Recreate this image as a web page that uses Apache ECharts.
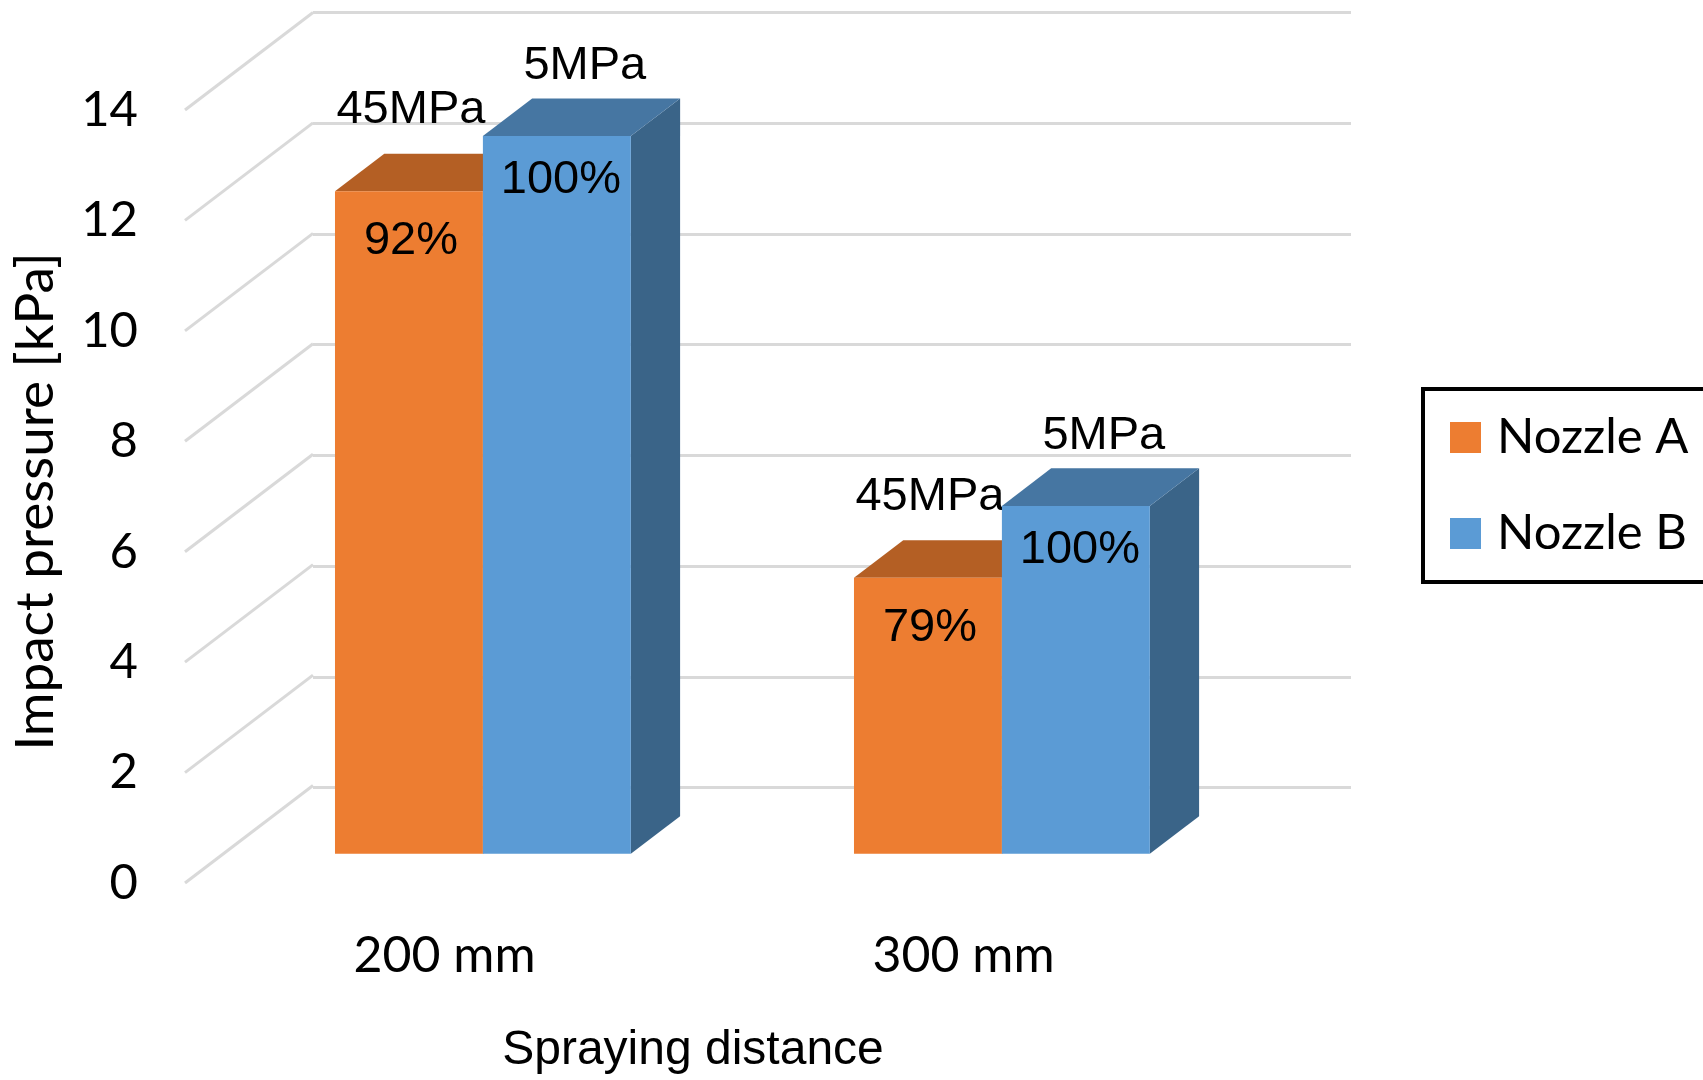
<!DOCTYPE html>
<html>
<head>
<meta charset="utf-8">
<script src="https://cdn.jsdelivr.net/npm/echarts@6/dist/echarts.min.js"></script>
<style>
  html, body { margin: 0; padding: 0; background: #ffffff; }
  #chart { width: 1703px; height: 1080px; }
</style>
</head>
<body>
<div id="chart"></div>
<script>
// ---- data ----
const categories = ['200 mm', '300 mm'];
const seriesNames = ['Nozzle A', 'Nozzle B'];
const nozzleA = [12.0, 5.0];          // impact pressure, kPa
const nozzleB = [13.0, 6.3];          // impact pressure, kPa
const supplyPressure = ['45MPa', '5MPa'];
const yMin = 0, yMax = 14, yStep = 2;
const yTicks = [0, 2, 4, 6, 8, 10, 12, 14];

// ---- 3D look (oblique projection) ----
const DEPTH = [128, -97.5];      // pixel offset from the front plane to the back wall
const BAR_FRONT_T = 0.30;        // depth position of the bar front faces
const BAR_DEPTH_T = 0.385;       // depth of each bar
const BAR_FRAC = 0.285;          // bar width as a share of the category band

const colors = {
  A: { front: '#ED7D31', top: '#B45F24', side: '#A9561E' },
  B: { front: '#5B9BD5', top: '#4676A2', side: '#3A6488' }
};

const LABEL_FONT = '47px "Liberation Sans", Arial, sans-serif';
const AXIS_FONT = 'Lato';

function pct(v, ref) { return Math.round(v / ref * 100) + '%'; }

function makeBarRenderer(side, c, outerText, outerOff, innerOff) {
  return function (params, api) {
    const cat = api.value(0);
    const val = api.value(1);
    const ref = api.value(2);
    const base = api.coord([cat, 0]);
    const top = api.coord([cat, val]);
    const bw = api.size([1, 0])[0] * BAR_FRAC;
    const sx = DEPTH[0] * BAR_FRONT_T, sy = DEPTH[1] * BAR_FRONT_T;
    const dx = DEPTH[0] * BAR_DEPTH_T, dy = DEPTH[1] * BAR_DEPTH_T;
    const x0 = base[0] + sx + (side < 0 ? -bw : 0);
    const x1 = x0 + bw;
    const yb = base[1] + sy;
    const yt = top[1] + sy;
    const cx = (x0 + x1) / 2;
    return {
      type: 'group',
      children: [
        { type: 'polygon', shape: { points: [[x1, yb], [x1 + dx, yb + dy], [x1 + dx, yt + dy], [x1, yt]] },
          style: { fill: c.side } },
        { type: 'polygon', shape: { points: [[x0, yt], [x1, yt], [x1 + dx, yt + dy], [x0 + dx, yt + dy]] },
          style: { fill: c.top } },
        { type: 'rect', shape: { x: x0, y: yt, width: bw, height: yb - yt },
          style: { fill: c.front } },
        { type: 'text', style: { text: pct(val, ref), x: cx + innerOff[0], y: yt + innerOff[1],
          fill: '#000', font: LABEL_FONT, align: 'center', verticalAlign: 'middle' } },
        { type: 'text', style: { text: outerText, x: cx + outerOff[0], y: yt + outerOff[1],
          fill: '#000', font: LABEL_FONT, align: 'center', verticalAlign: 'middle' } }
      ]
    };
  };
}

const barData = categories.map((c, i) => [i, nozzleA[i], nozzleB[i]]);
const barDataB = categories.map((c, i) => [i, nozzleB[i], nozzleB[i]]);

const chart = echarts.init(document.getElementById('chart'), null, { renderer: 'canvas' });

chart.setOption({
  backgroundColor: '#ffffff',
  animation: false,
  grid: [
    { left: 185, top: 110, width: 1038, height: 775 },          // front plane
    { left: 185 + DEPTH[0], top: 110 + DEPTH[1], width: 1038, height: 775 } // back wall
  ],
  legend: {
    orient: 'vertical',
    left: 1423,
    top: 389,
    padding: [24, 40, 24, 27],
    borderColor: '#000000',
    borderWidth: 4,
    itemWidth: 31,
    itemHeight: 31,
    itemGap: 47,
    icon: 'rect',
    textStyle: { fontFamily: AXIS_FONT, fontSize: 49, color: '#000000', padding: [0, 0, 0, 11] },
    data: [
      { name: seriesNames[0], itemStyle: { color: colors.A.front } },
      { name: seriesNames[1], itemStyle: { color: colors.B.front } }
    ]
  },
  xAxis: [
    {
      gridIndex: 0, type: 'category', data: categories,
      axisLine: { show: false }, axisTick: { show: false }, splitLine: { show: false },
      axisLabel: { fontFamily: AXIS_FONT, fontSize: 50, color: '#000', margin: 48 },
      name: 'Spraying distance', nameLocation: 'middle', nameGap: 144,
      nameTextStyle: { fontFamily: '"Liberation Sans", Arial, sans-serif', fontSize: 48, color: '#000',
        padding: [0, 22, 0, 0] }
    },
    {
      gridIndex: 1, type: 'category', data: categories, show: false
    }
  ],
  yAxis: [
    {
      gridIndex: 0, type: 'value', min: yMin, max: yMax, interval: yStep,
      axisLine: { show: false }, axisTick: { show: false }, splitLine: { show: false },
      axisLabel: { fontFamily: AXIS_FONT, fontSize: 49, color: '#000', margin: 47 },
      name: 'Impact pressure [kPa]', nameLocation: 'middle', nameRotate: 90, nameGap: 123,
      nameTextStyle: { fontFamily: AXIS_FONT, fontSize: 53, color: '#000', padding: [0, 10, 0, 0] }
    },
    {
      gridIndex: 1, type: 'value', min: yMin, max: yMax, interval: yStep,
      axisLine: { show: false }, axisTick: { show: false }, axisLabel: { show: false },
      splitLine: { show: true, lineStyle: { color: '#d9d9d9', width: 3 } }
    }
  ],
  series: [
    {
      // side-wall floor lines joining the value ticks to the back wall
      type: 'custom', name: 'walls', xAxisIndex: 0, yAxisIndex: 0, silent: true, z: 1,
      data: yTicks.map(v => [0, v]),
      encode: { x: 0, y: 1 },
      renderItem: function (params, api) {
        const p = api.coord([0, api.value(1)]);
        const x = params.coordSys.x;
        return { type: 'line', shape: { x1: x, y1: p[1], x2: x + DEPTH[0], y2: p[1] + DEPTH[1] },
          style: { stroke: '#d9d9d9', lineWidth: 3 } };
      }
    },
    {
      type: 'custom', name: seriesNames[0], xAxisIndex: 0, yAxisIndex: 0, z: 2,
      itemStyle: { color: colors.A.front },
      data: barData,
      encode: { x: 0, y: 1 },
      renderItem: makeBarRenderer(-1, colors.A, supplyPressure[0], [2, -81], [2, 50])
    },
    {
      type: 'custom', name: seriesNames[1], xAxisIndex: 0, yAxisIndex: 0, z: 3,
      itemStyle: { color: colors.B.front },
      data: barDataB,
      encode: { x: 0, y: 1 },
      renderItem: makeBarRenderer(1, colors.B, supplyPressure[1], [28, -70], [4, 44])
    }
  ]
});
</script>
</body>
</html>
